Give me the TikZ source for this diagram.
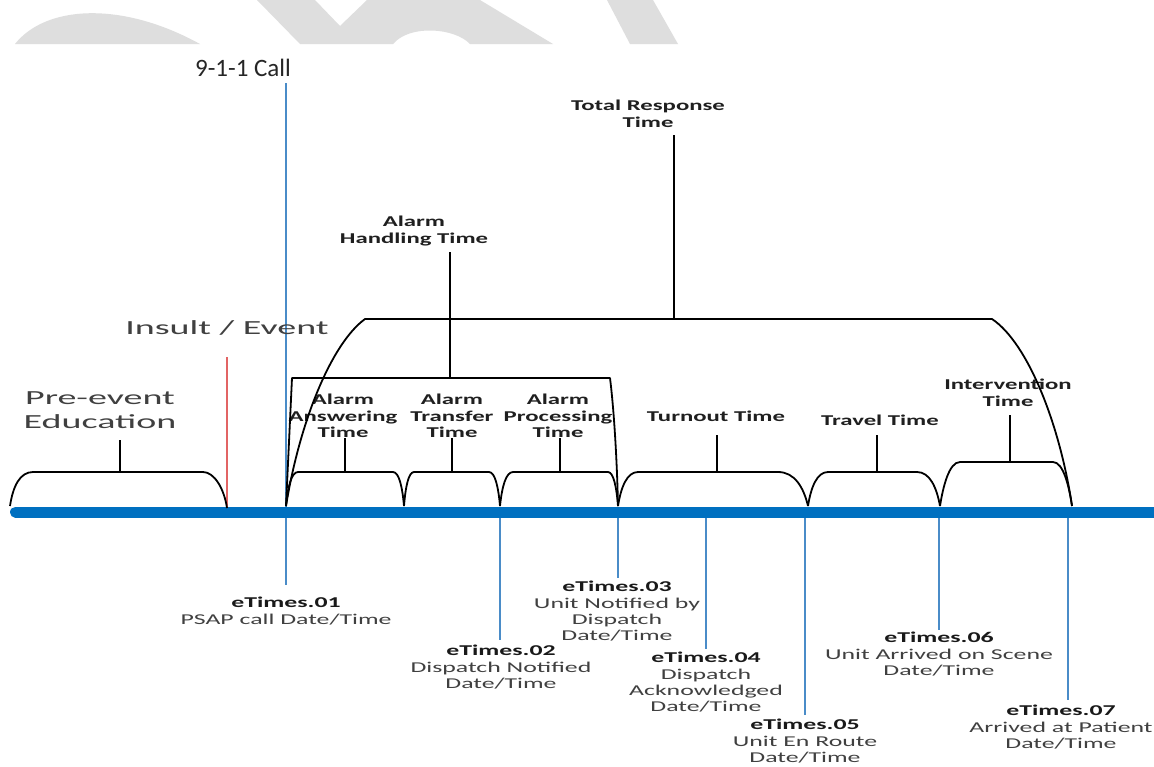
\documentclass[tikz,border=0pt]{standalone}
\usepackage{fontspec}
\newfontfamily\lblfont[FakeStretch=1.65]{Carlito}
\newfontfamily\etfont[FakeStretch=1.72]{Carlito}
\newfontfamily\wideFont[FakeStretch=1.9]{Carlito}
\newfontfamily\callfont{Carlito}
\definecolor{barblue}{RGB}{0,112,192}
\definecolor{lineblue}{RGB}{74,140,200}
\definecolor{evred}{RGB}{226,100,100}
\definecolor{txtgray}{RGB}{64,64,64}
\definecolor{wmgray}{RGB}{222,222,222}
\begin{document}
\begin{tikzpicture}[x=1pt,y=-1pt,
  brk/.style={line width=1.8pt, black, line join=round},
  stem/.style={line width=2.8pt, black},
  vline/.style={line width=2.8pt, lineblue},
  blbl/.style={font=\lblfont\bfseries\fontsize{15}{16.5}\selectfont, align=center, inner sep=0pt, anchor=north, text=black!88},
  elbl/.style={font=\etfont\fontsize{15}{16.3}\selectfont, align=center, inner sep=0pt, anchor=north, text=txtgray},
  wlbl/.style={font=\wideFont\fontsize{20}{24}\selectfont, align=center, inner sep=0pt, text=txtgray},
]
\useasboundingbox (0,0) rectangle (1154,766);
\fill[white] (0,0) rectangle (1154,766);
% watermark remnants
\fill[wmgray] (15,44) .. controls (45,6) and (120,0) .. (200,44) -- cycle;
\fill[wmgray] (257,0) -- (315,0) -- (340,26) -- (367,0) -- (480,0) -- (553,44) -- (470,44) .. controls (455,28) and (410,24) .. (393,44) -- (300,44) -- cycle;
\fill[wmgray] (607,0) -- (653,0) -- (678,44) -- (630,44) -- cycle;

% blue vertical markers
\node[font=\callfont\fontsize{25}{28}\selectfont, text=black!85, inner sep=0pt] (call) at (243,68) {9-1-1 Call};
\coordinate (c1top) at (286,83);
\coordinate (c1end) at (286,585);
\coordinate (c2top) at (500,512);
\coordinate (c2end) at (500,640);
\coordinate (c3top) at (618,512);
\coordinate (c3end) at (618,578);
\coordinate (c4top) at (706,512);
\coordinate (c4end) at (706,649);
\coordinate (c5top) at (805,512);
\coordinate (c5end) at (805,715);
\coordinate (c6top) at (939,512);
\coordinate (c6end) at (939,630);
\coordinate (c7top) at (1068,512);
\coordinate (c7end) at (1068,700);
\foreach \i in {1,...,7} {\draw[vline] (c\i top) -- (c\i end);}

\node[elbl] (e1) at (286,597) {\textcolor{black!90}{\bfseries eTimes.01}\\PSAP call Date/Time};
\node[elbl] (e2) at (501,645) {\textcolor{black!90}{\bfseries eTimes.02}\\Dispatch Notified\\Date/Time};
\node[elbl] (e3) at (617,581) {\textcolor{black!90}{\bfseries eTimes.03}\\Unit Notified by\\Dispatch\\Date/Time};
\node[elbl] (e4) at (706,652) {\textcolor{black!90}{\bfseries eTimes.04}\\Dispatch\\Acknowledged\\Date/Time};
\node[elbl] (e5) at (805,719) {\textcolor{black!90}{\bfseries eTimes.05}\\Unit En Route\\Date/Time};
\node[elbl] (e6) at (939,632) {\textcolor{black!90}{\bfseries eTimes.06}\\Unit Arrived on Scene\\Date/Time};
\node[elbl] (e7) at (1061,705) {\textcolor{black!90}{\bfseries eTimes.07}\\Arrived at Patient\\Date/Time};

% insult / event
\node[wlbl] (insult) at (227,328) {Insult / Event};
\coordinate (r0) at (227,357);
\coordinate (r1) at (227,508);
\draw[line width=2.6pt, evred] (r0) -- (r1);

% timeline
\coordinate (tl0) at (15.5,512);
\coordinate (tl1) at (1175,512);
\draw[line width=11pt, barblue, line cap=round] (tl0) -- (tl1);

% pre-event
\node[wlbl, anchor=north] (pre) at (100,391) {Pre-event\\Education};
\draw[brk] (10,506) .. controls (13,486) and (20,472) .. (33,472) -- (203,472) .. controls (214,472) and (224,488) .. (227,508);
\draw[stem] (120,472) -- (120,440);

% small brackets
\foreach \a/\b/\t/\wl/\wr in {286/404/472/12/11, 404/500/472/10/11, 500/618/472/13/10, 618/808/472/20/30, 808/940/472/20/23, 940/1072/462/20/19} {
  \draw[brk] (\a,506) .. controls (\a+0.15*\wl,487) and (\a+0.45*\wl,\t) .. (\a+\wl,\t)
    -- (\b-\wr,\t) .. controls (\b-0.45*\wr,\t) and (\b-0.15*\wr,487) .. (\b,506);
}
\draw[stem] (345,472) -- (345,438);
\draw[stem] (452,472) -- (452,438);
\draw[stem] (560,472) -- (560,438);
\draw[stem] (717,472) -- (717,435);
\draw[stem] (877,472) -- (877,435);
\draw[stem] (1010,462) -- (1010,415);

\node[blbl] (ans) at (343,394) {Alarm\\Answering\\Time};
\node[blbl] (tra) at (452,394) {Alarm\\Transfer\\Time};
\node[blbl] (pro) at (558,394) {Alarm\\Processing\\Time};
\node[blbl] (turn) at (716,411) {Turnout Time};
\node[blbl] (trav) at (880,415) {Travel Time};
\node[blbl] (int) at (1008,379) {Intervention\\Time};

% alarm handling
\draw[brk] (286,506) -- (292,378) -- (610,378) .. controls (614,410) and (617,460) .. (618,506);
\draw[stem] (450,378) -- (450,252);
\node[blbl] (ah) at (414,216) {Alarm\\Handling Time};

% total response
\draw[brk] (286,506) .. controls (300,420) and (332,343) .. (365,319) -- (992,319) .. controls (1028,343) and (1060,425) .. (1072,506);
\draw[stem] (674,319) -- (674,135);
\node[blbl] (trt) at (648,100) {Total Response\\Time};
\end{tikzpicture}
\end{document}
